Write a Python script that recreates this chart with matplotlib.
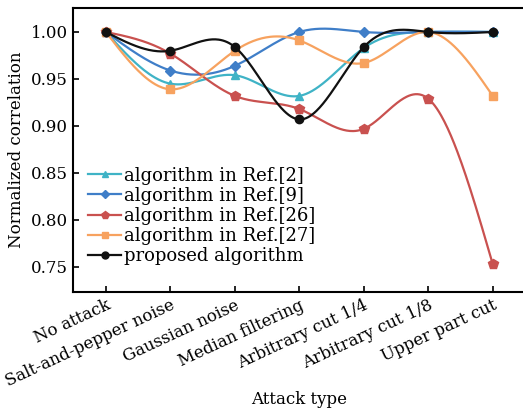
import numpy as np
import matplotlib
matplotlib.use("Agg")
import matplotlib.pyplot as plt
import matplotlib.transforms as mtrans

categories = ["No attack", "Salt-and-pepper noise", "Gaussian noise", "Median filtering",
              "Arbitrary cut 1/4", "Arbitrary cut 1/8", "Upper part cut"]
ref2 = [1.000, 0.945, 0.954, 0.932, 0.983, 1.000, 1.000]
ref9 = [1.000, 0.959, 0.964, 1.000, 1.000, 1.000, 1.000]
ref26 = [1.000, 0.977, 0.932, 0.918, 0.897, 0.929, 0.753]
ref27 = [1.000, 0.939, 0.980, 0.991, 0.967, 1.000, 0.932]
proposed = [1.000, 0.980, 0.984, 0.907, 0.984, 1.000, 1.000]
yticks = [0.75, 0.80, 0.85, 0.90, 0.95, 1.00]

def natural_spline(y, n=60):
    y = np.asarray(y, float)
    m = len(y)
    A = np.zeros((m, m)); b = np.zeros(m)
    A[0, 0] = 1; A[-1, -1] = 1
    for i in range(1, m - 1):
        A[i, i - 1] = 1; A[i, i] = 4; A[i, i + 1] = 1
        b[i] = 6 * (y[i + 1] - 2 * y[i] + y[i - 1])
    M = np.linalg.solve(A, b)
    xs = np.linspace(0, m - 1, (m - 1) * n + 1)
    ys = np.empty_like(xs)
    for k, xv in enumerate(xs):
        i = min(int(np.floor(xv)), m - 2)
        t = xv - i
        ys[k] = ((1 - t) * y[i] + t * y[i + 1]
                 + ((1 - t) ** 3 - (1 - t)) * M[i] / 6 + (t ** 3 - t) * M[i + 1] / 6)
    return xs, ys

plt.rcParams['font.family'] = ['DejaVu Serif']
fig = plt.figure(figsize=(5.23, 4.12), dpi=100)
ax = fig.add_axes([73/523, 120/412, 452/523, 284/412])

series = [
    (ref2, "algorithm in Ref.[2]", "#3fb3c6", "^", 6),
    (ref9, "algorithm in Ref.[9]", "#3f7ec8", "D", 5),
    (ref26, "algorithm in Ref.[26]", "#c9514f", "p", 7),
    (ref27, "algorithm in Ref.[27]", "#f7a25f", "s", 6),
    (proposed, "proposed algorithm", "#111111", "o", 6),
]
x = np.arange(len(categories))
for vals, lab, col, mk, ms in series:
    xs, ys = natural_spline(vals)
    ax.plot(xs, ys, color=col, lw=1.6)
    ax.plot(x, vals, linestyle='none', marker=mk, color=col, ms=ms)
    ax.plot([], [], color=col, lw=1.6, marker=mk, ms=ms - 1, label=lab)

ax.set_xlim(-0.51, 6.5)
ax.set_ylim(0.7234, 1.0255)
ax.set_xticks(x)
ax.set_xticklabels(categories, rotation=25, ha='right', rotation_mode='anchor', fontsize=12)
off = mtrans.ScaledTranslation(15/100, 0, fig.dpi_scale_trans)
for lbl in ax.get_xticklabels():
    lbl.set_transform(lbl.get_transform() + off)
ax.set_yticks(yticks)
ax.set_yticklabels([f"{v:.2f}" for v in yticks], fontsize=12)
ax.tick_params(direction='in', length=4, width=1.2)
ax.spines['right'].set_visible(False)
for s in ['left', 'bottom', 'top']:
    ax.spines[s].set_linewidth(1.5)
ax.set_xlabel("Attack type", fontsize=12, va='center')
ax.xaxis.set_label_coords(0.5, -0.38)
ax.set_ylabel("Normalized correlation", fontsize=12)
ax.legend(loc='upper left', bbox_to_anchor=(0.01, 0.48), frameon=False, fontsize=13,
          handlelength=1.8, handletextpad=0.2, labelspacing=0.12, borderaxespad=0.2)
fig.savefig("out.png", dpi=100)
